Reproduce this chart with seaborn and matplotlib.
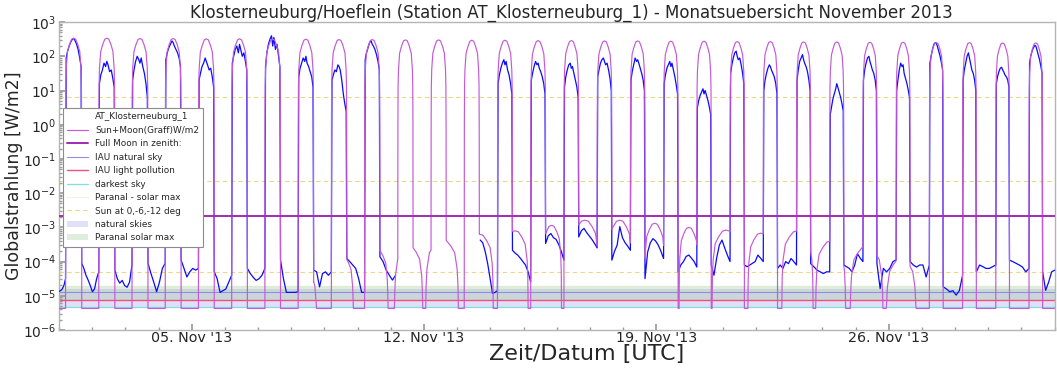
import numpy as np
import pandas as pd
import matplotlib
matplotlib.use("Agg")
import matplotlib.pyplot as plt
import matplotlib.dates as mdates
from matplotlib.lines import Line2D
from matplotlib.patches import Patch
import seaborn as sns

MONTH_START = pd.Timestamp("2013-11-01")
N_DAYS = 30

# ---- Graff model: sun part -------------------------------------------------
# start / end of the daily twilight arc (UTC hours), 1..30 Nov
dawn_utc = [4.75, 4.78, 4.80, 4.83, 4.85, 4.88, 4.90, 4.93, 4.95, 4.98,
            5.00, 5.03, 5.05, 5.08, 5.10, 5.13, 5.15, 5.18, 5.20, 5.22,
            5.25, 5.27, 5.30, 5.32, 5.34, 5.36, 5.38, 5.40, 5.42, 5.44]
dusk_utc = [16.45, 16.40, 16.36, 16.32, 16.28, 16.24, 16.20, 16.16, 16.12, 16.08,
            16.04, 16.00, 15.96, 15.92, 15.88, 15.84, 15.80, 15.76, 15.72, 15.68,
            15.64, 15.60, 15.56, 15.52, 15.48, 15.44, 15.40, 15.36, 15.32, 15.28]
# clear-sky noon maximum, log10 W/m2
sun_peak_log = [2.53, 2.53, 2.52, 2.52, 2.51, 2.51, 2.50, 2.50, 2.49, 2.49,
                2.48, 2.48, 2.47, 2.47, 2.46, 2.46, 2.45, 2.45, 2.44, 2.44,
                2.43, 2.43, 2.42, 2.42, 2.41, 2.41, 2.40, 2.40, 2.39, 2.39]
# arc shape: relative position across the arc and drop below the peak (decades)
arc_pos = [-1.0, -0.985, -0.96, -0.91, -0.76, -0.52, -0.25, 0.0,
           0.25, 0.52, 0.76, 0.91, 0.96, 0.985, 1.0]
arc_drop = [-12.0, -2.5, -1.36, -0.87, -0.39, -0.19, -0.03, 0.0,
            -0.03, -0.19, -0.39, -0.87, -1.36, -2.5, -12.0]
floor_log = -5.37

# ---- Graff model: moon part ------------------------------------------------
# day of November, culmination (UTC h on that day), half-width (h), peak log10 W/m2
moon_date = [8, 9, 10, 11, 12, 13, 14, 15, 16, 17, 18, 19, 20, 21, 22, 23, 24, 25]
moon_mid = [12.0, 13.6, 14.3, 12.8, 13.0, 16.0, 17.8, 20.2, 20.3, 21.5,
            22.8, 23.5, 26.4, 27.4, 30.0, 30.0, 32.0, 33.0]
moon_half = [6.5, 7.4, 7.8, 10.4, 12.0, 10.2, 9.6, 7.3, 10.1, 9.1,
             7.6, 7.2, 10.3, 9.4, 11.5, 11.0, 12.0, 11.0]
moon_peak = [-4.3, -3.85, -3.65, -3.53, -3.35, -3.2, -3.1, -2.94, -2.79, -2.79,
             -2.88, -3.0, -3.08, -3.17, -3.1, -3.4, -3.55, -3.9]

# ---- measurements AT_Klosterneuburg_1 ----------------------------------------
# daytime samples (log10 W/m2) across each arc, None = no data
day_pos = [-0.92, -0.75, -0.55, -0.35, -0.15, 0.0, 0.15, 0.35, 0.55, 0.75, 0.92]
day_meas = [
    [1.95, 2.15, 2.30, 2.42, 2.50, 2.52, 2.47, 2.36, 2.20, 1.95, 1.70],
    [1.20, 1.45, 1.60, 1.80, 1.70, 1.85, 1.75, 1.55, 1.60, 1.35, 1.10],
    [1.30, 1.60, 1.85, 2.00, 1.90, 1.80, 1.95, 1.70, 1.50, 1.20, 0.80],
    [1.90, 2.10, 2.25, 2.35, 2.45, 2.40, 2.30, 2.20, 2.10, 1.95, 1.70],
    [1.30, 1.50, 1.70, 1.80, 1.95, 1.85, 1.75, 1.60, 1.65, 1.40, 1.10],
    [1.80, 2.00, 2.20, 2.30, 2.10, 2.35, 2.20, 2.00, 2.10, 1.85, 1.60],
    [1.70, 2.10, 2.35, 2.50, 2.60, 2.30, 2.55, 2.20, 2.35, 2.00, 1.70],
    [1.40, 1.65, 1.80, 1.95, 1.85, 2.00, 1.80, 1.70, 1.55, 1.40, 1.10],
    [1.30, 1.45, 1.60, 1.55, 1.75, 1.70, 1.60, 1.30, 0.90, 0.60, 0.40],
    [1.90, 2.10, 2.25, 2.40, 2.45, 2.35, 2.30, 2.20, 2.05, 1.85, 1.60],
    None,
    None,
    None,
    [1.20, 1.45, 1.65, 1.80, 1.90, 1.75, 1.85, 1.60, 1.45, 1.20, 0.90],
    [1.30, 1.50, 1.70, 1.85, 1.75, 1.80, 1.65, 1.55, 1.40, 1.20, 0.90],
    [1.10, 1.40, 1.60, 1.75, 1.80, 1.65, 1.70, 1.50, 1.30, 1.10, 0.80],
    [1.40, 1.60, 1.80, 1.90, 1.95, 1.85, 1.75, 1.80, 1.60, 1.35, 1.00],
    [1.30, 1.55, 1.75, 1.95, 1.85, 1.90, 1.80, 1.65, 1.50, 1.30, 1.00],
    [1.20, 1.45, 1.65, 1.75, 1.85, 1.70, 1.80, 1.60, 1.40, 1.15, 0.90],
    [0.50, 0.70, 0.85, 0.95, 1.05, 0.90, 1.00, 0.85, 0.70, 0.50, 0.30],
    [1.50, 1.75, 1.95, 2.10, 2.15, 2.00, 1.90, 1.95, 1.75, 1.50, 1.20],
    [1.00, 1.30, 1.50, 1.65, 1.75, 1.70, 1.60, 1.50, 1.40, 1.20, 0.90],
    [1.30, 1.60, 1.85, 1.95, 2.05, 1.90, 1.80, 1.70, 1.55, 1.30, 1.00],
    [0.30, 0.50, 0.75, 0.90, 1.05, 1.20, 1.10, 0.95, 0.80, 0.60, 0.40],
    [1.30, 1.60, 1.80, 1.95, 2.00, 1.85, 1.75, 1.60, 1.50, 1.30, 1.00],
    [1.00, 1.30, 1.60, 1.80, 1.70, 1.75, 1.50, 1.35, 1.20, 1.00, 0.80],
    [1.80, 2.00, 2.20, 2.35, 2.40, 2.38, 2.30, 2.15, 2.00, 1.80, 1.60],
    [1.30, 1.60, 1.80, 2.00, 2.10, 1.95, 1.80, 1.60, 1.50, 1.30, 1.00],
    [1.20, 1.40, 1.55, 1.65, 1.68, 1.60, 1.55, 1.45, 1.40, 1.30, 1.10],
    [1.80, 2.00, 2.15, 2.25, 2.32, 2.30, 2.20, 2.05, 1.90, 1.70, 1.50],
]
# night samples (log10 W/m2), evenly spread from dusk to the next dawn;
# entry k is the night that ends on the morning of day k (0 = Nov 1), last one ends at month end
night_meas = [
    [-4.87, -4.85, -4.80, -4.70, -4.50],
    [-4.05, -4.20, -4.40, -4.54, -4.70, -4.88, -4.80, -4.50, -4.30],
    [-4.25, -4.50, -4.63, -4.55, -4.70, -4.75, -4.60, -4.10],
    [-4.05, -4.34, -4.60, -4.88, -4.60, -4.20, -4.05],
    [-3.96, -4.20, -4.45, -4.30, -4.20, -4.25, -4.20],
    [-4.30, -4.50, -4.90, -4.85, -4.80, -4.60, -4.40],
    [-4.20, -4.35, -4.46, -4.55, -4.50, -4.40, -4.20],
    [-3.96, -4.50, -4.90, -4.90, -4.90, -4.90, -4.88],
    [-4.25, -4.30, -4.74, -4.35, -4.30, -4.40, -4.30],
    [-3.91, -4.00, -4.10, -4.20, -4.50, -4.90, -4.90],
    [-3.86, -4.00, -4.25, -4.40, -4.54, -4.40],
    None,
    None,
    [-3.37, -3.45, -3.70, -4.05, -4.50, -4.93, -4.90, -4.85],
    [-3.67, -3.75, -3.81, -3.90, -4.00, -4.10, -4.30, -4.60],
    [-3.47, -3.25, -3.18, -3.30, -3.35, -3.50, -3.70, -3.96],
    [-3.28, -3.10, -3.03, -3.15, -3.25, -3.35, -3.47, -3.60],
    [-3.96, -3.70, -3.52, -2.98, -3.30, -3.45, -3.55, -3.67],
    [-4.50, -3.72, -3.45, -3.33, -3.40, -3.52, -3.70, -3.91],
    [-4.30, -4.10, -4.00, -3.85, -3.81, -3.90, -4.00, -4.16],
    [-4.10, -4.40, -3.90, -3.52, -3.37, -3.60, -3.81, -4.00],
    [-4.10, -4.15, -4.10, -4.05, -4.00, -3.81, -3.90, -4.00],
    [-4.20, -4.10, -4.20, -4.00, -4.06, -3.91, -4.00, -4.10],
    [-4.06, -4.15, -4.25, -4.30, -4.35, -4.30, -4.30],
    [-4.10, -4.15, -4.20, -4.30, -4.10, -3.77, -3.90, -4.00],
    [-4.06, -4.79, -4.20, -4.30, -4.20, -4.00, -3.95],
    [-4.00, -4.10, -4.16, -4.10, -4.10, -4.45, -4.10],
    [-4.74, -4.80, -4.88, -4.85, -4.98, -4.85, -4.40],
    [-4.30, -4.10, -4.15, -4.20, -4.20, -4.15, -4.10],
    [-3.96, -4.00, -4.05, -4.10, -4.16, -4.30, -4.20],
    [-4.30, -4.84, -4.60, -4.30, -4.25],
]
# logger outage (hours since 1 Nov 00 UTC)
outage_start_h = 24 * 10 + 3.4
outage_end_h = 24 * 12 + 16.6

# ---- reference levels (W/m2) -------------------------------------------------
full_moon_zenith = 2.1e-3
iau_natural_sky = 1.3e-5
iau_light_pollution = 7.3e-6
darkest_sky = 4.8e-6
paranal_solar_max = 1.95e-5
sun_elevation_levels = [6.3, 2.3e-2, 4.8e-5]
natural_skies_band = (4.7e-6, 1.55e-5)
paranal_band = (7.4e-6, 1.95e-5)


def to_time(hours):
    return MONTH_START + pd.to_timedelta(np.asarray(hours, dtype=float), unit="h")


def moon_level(h):
    """log10 of the moon contribution at absolute hour h (floor if below horizon)."""
    best = floor_log
    for date, mid, half, peak in zip(moon_date, moon_mid, moon_half, moon_peak):
        centre = 24 * (date - 1) + mid
        s = (h - centre) / half
        if -1.0 <= s <= 1.0:
            best = max(best, peak + np.interp(s, arc_pos, arc_drop))
    return best


def moon_node_hours(h0, h1):
    nodes = []
    for date, mid, half in zip(moon_date, moon_mid, moon_half):
        centre = 24 * (date - 1) + mid
        for s in arc_pos:
            h = centre + s * half
            if h0 < h < h1:
                nodes.append(h)
    return sorted(nodes)


dawn_h = [24 * d + dawn_utc[d] for d in range(N_DAYS)]
dusk_h = [24 * d + dusk_utc[d] for d in range(N_DAYS)]

# ---- assemble the model curve ----------------------------------------------------
model_h, model_v = [], []


def add_night(h0, h1):
    for h in [h0] + moon_node_hours(h0, h1) + [h1]:
        model_h.append(h)
        model_v.append(moon_level(h))


add_night(0.0, dawn_h[0])
for d in range(N_DAYS):
    mid = 0.5 * (dawn_h[d] + dusk_h[d])
    half = 0.5 * (dusk_h[d] - dawn_h[d])
    for s, drop in zip(arc_pos, arc_drop):
        h = mid + s * half
        model_h.append(h)
        model_v.append(max(sun_peak_log[d] + drop, moon_level(h)))
    add_night(dusk_h[d], dawn_h[d + 1] if d + 1 < N_DAYS else 24.0 * N_DAYS)

model = pd.DataFrame({"time": to_time(model_h),
                      "irr": 10.0 ** np.array(model_v)})

# ---- assemble the measured series ------------------------------------------------
meas_h, meas_v, meas_seg = [], [], []
seg = 0


def add_points(hours, values):
    meas_h.extend(hours)
    meas_v.extend(values)
    meas_seg.extend([seg] * len(values))


for k, vals in enumerate(night_meas):
    if vals is None:
        continue
    start = 0.0 if k == 0 else dusk_h[k - 1]
    end = dawn_h[k] if k < N_DAYS else 24.0 * N_DAYS
    if start < outage_start_h < end:
        end = outage_start_h
    if start < outage_end_h < end:
        start = outage_end_h
        seg += 1
    add_points(list(np.linspace(start, end, len(vals))), vals)
    if k < N_DAYS and day_meas[k] is not None:
        mid = 0.5 * (dawn_h[k] + dusk_h[k])
        half = 0.5 * (dusk_h[k] - dawn_h[k])
        add_points([mid + s * half for s in day_pos], day_meas[k])

meas = pd.DataFrame({"time": to_time(meas_h),
                     "irr": 10.0 ** np.array(meas_v),
                     "seg": meas_seg})

# ---- drawing -------------------------------------------------------------------------
sns.set_theme(style="ticks")
plt.rcParams["font.family"] = ["DejaVu Sans"]
text_col = "#262626"

fig = plt.figure(figsize=(10.57, 3.71), dpi=100)
ax = fig.add_axes([0.0558, 0.1105, 0.942, 0.830])
ax.set_yscale("log")

ax.axhspan(*natural_skies_band, color="#8c8ce6", alpha=0.28, lw=0, zorder=0)
ax.axhspan(*paranal_band, color="#9cc48c", alpha=0.30, lw=0, zorder=0)

sns.lineplot(data=meas, x="time", y="irr", units="seg", estimator=None,
             sort=False, color="#0a0aff", lw=0.9, ax=ax, zorder=3)
sns.lineplot(data=model, x="time", y="irr", estimator=None, sort=False,
             color="#c45ad6", lw=0.85, ax=ax, zorder=4)

ax.axhline(full_moon_zenith, color="#a02cb4", lw=1.4, zorder=5)
ax.axhline(iau_natural_sky, color="#8f8fe8", lw=0.8, zorder=2)
ax.axhline(iau_light_pollution, color="#f0507a", lw=1.0, zorder=2)
ax.axhline(darkest_sky, color="#7fdede", lw=0.9, zorder=2)
ax.axhline(paranal_solar_max, color="#dcecd4", lw=0.9, zorder=2)
for lvl in sun_elevation_levels:
    ax.axhline(lvl, color="#e8d98a", lw=0.8, ls=(0, (4, 3)), zorder=2)

ax.set_xlim(MONTH_START, MONTH_START + pd.Timedelta(days=N_DAYS))
ax.set_ylim(1e-6, 1e3)

ax.xaxis.set_major_locator(mdates.DayLocator(bymonthday=[5, 12, 19, 26]))
ax.xaxis.set_minor_locator(mdates.DayLocator())
ax.xaxis.set_major_formatter(mdates.DateFormatter("%d. %b '%y"))
ax.tick_params(axis="both", which="both", direction="in", colors="#9a9a9a",
               labelcolor=text_col)
ax.tick_params(axis="x", which="major", labelsize=10.3, length=4, pad=1)
ax.tick_params(axis="x", which="minor", length=2)
ax.tick_params(axis="y", which="major", labelsize=10, length=4, pad=2)
ax.tick_params(axis="y", which="minor", length=2)
for sp in ax.spines.values():
    sp.set_color("#b4b4b4")
    sp.set_linewidth(1.0)

ax.set_xlabel("Zeit/Datum [UTC]", fontsize=16, color=text_col)
ax.xaxis.set_label_coords(0.53, -0.045)
ax.set_ylabel("Globalstrahlung [W/m2]", fontsize=12.5, color=text_col)
ax.yaxis.set_label_coords(-0.036, 0.5)
ax.set_title("Klosterneuburg/Hoeflein (Station AT_Klosterneuburg_1) - "
             "Monatsuebersicht November 2013", fontsize=12, color=text_col,
             x=0.515, pad=3)

handles = [
    Line2D([], [], ls="none"),
    Line2D([], [], color="#c45ad6", lw=0.85),
    Line2D([], [], color="#a02cb4", lw=1.4),
    Line2D([], [], color="#8f8fe8", lw=0.8),
    Line2D([], [], color="#f0507a", lw=1.0),
    Line2D([], [], color="#7fdede", lw=0.9),
    Line2D([], [], color="#eef4ea", lw=0.9),
    Line2D([], [], color="#e8d98a", lw=0.8, ls=(0, (4, 3))),
    Patch(facecolor="#8c8ce6", alpha=0.28, lw=0),
    Patch(facecolor="#9cc48c", alpha=0.30, lw=0),
]
labels = ["AT_Klosterneuburg_1", "Sun+Moon(Graff)W/m2", "Full Moon in zenith:",
          "IAU natural sky", "IAU light pollution", "darkest sky",
          "Paranal - solar max", "Sun at 0,-6,-12 deg", "natural skies",
          "Paranal solar max"]
leg = ax.legend(handles, labels, loc="upper left",
                bbox_to_anchor=(63 / 1057, 1 - 108 / 371),
                bbox_transform=fig.transFigure, fontsize=6.4, frameon=True,
                fancybox=False, edgecolor="#8c8c8c", framealpha=1.0,
                handlelength=2.3, handletextpad=0.8, labelspacing=0.5,
                borderpad=0.5, borderaxespad=0)
leg.get_frame().set_linewidth(0.8)
for t in leg.get_texts():
    t.set_color(text_col)
leg.set_zorder(10)

fig.savefig("out.png", dpi=100)
